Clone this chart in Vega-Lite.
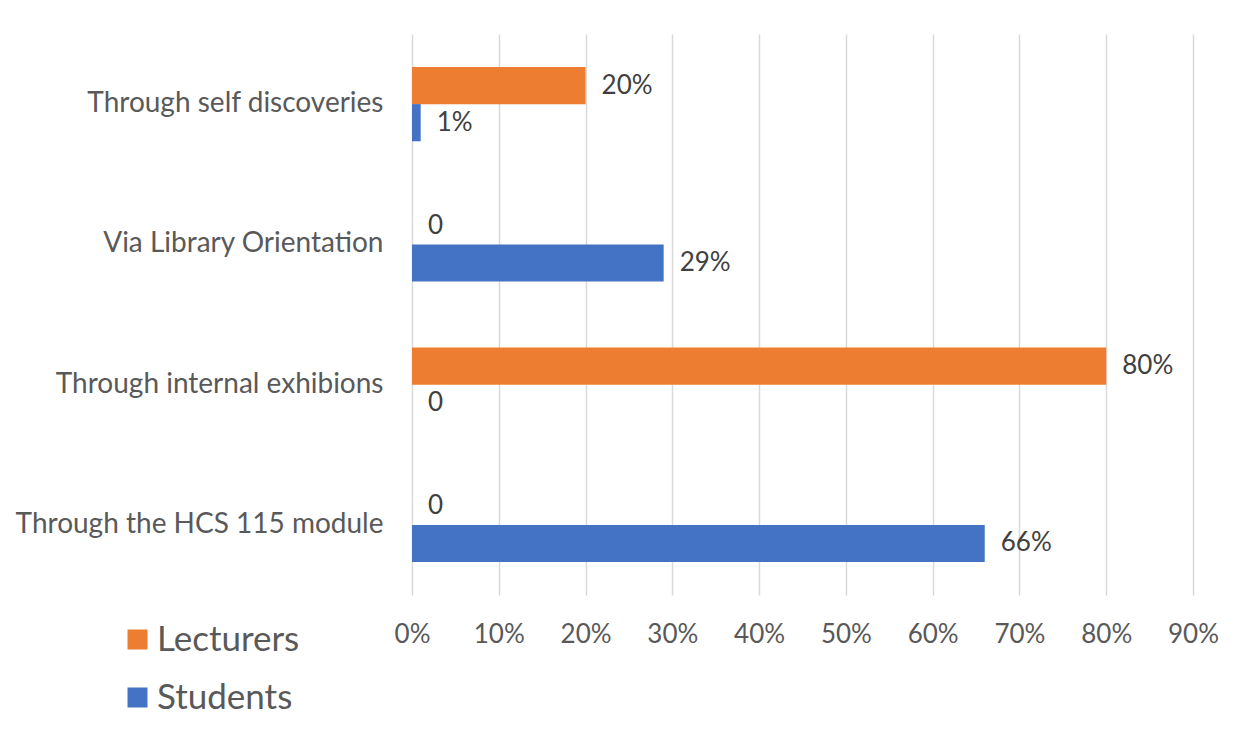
{
  "$schema": "https://vega.github.io/schema/vega-lite/v6.json",
  "width": 781,
  "height": 561,
  "autosize": {"type": "none"},
  "padding": {"left": 412, "top": 34, "right": 56, "bottom": 152},
  "background": "white",
  "config": {"view": {"stroke": null}, "font": "Lato"},
  "data": {
    "values": [
      {"category": "Through self discoveries", "group": "Lecturers", "value": 0.20, "label": "20%"},
      {"category": "Through self discoveries", "group": "Students", "value": 0.01, "label": "1%"},
      {"category": "Via Library Orientation", "group": "Lecturers", "value": 0, "label": "0"},
      {"category": "Via Library Orientation", "group": "Students", "value": 0.29, "label": "29%"},
      {"category": "Through internal exhibions", "group": "Lecturers", "value": 0.80, "label": "80%"},
      {"category": "Through internal exhibions", "group": "Students", "value": 0, "label": "0"},
      {"category": "Through the HCS 115 module", "group": "Lecturers", "value": 0, "label": "0"},
      {"category": "Through the HCS 115 module", "group": "Students", "value": 0.66, "label": "66%"}
    ]
  },
  "encoding": {
    "y": {
      "field": "category",
      "type": "nominal",
      "sort": ["Through self discoveries", "Via Library Orientation", "Through internal exhibions", "Through the HCS 115 module"],
      "scale": {"paddingInner": 0.47, "paddingOuter": 0.235},
      "axis": {"title": null, "domain": false, "ticks": false, "labelFontSize": 28, "labelColor": "#595959", "labelPadding": 29, "labelFont": "Lato", "labelLimit": 420}
    },
    "yOffset": {"field": "group", "type": "nominal", "sort": ["Lecturers", "Students"]},
    "x": {
      "field": "value",
      "type": "quantitative",
      "scale": {"domain": [0, 0.9], "nice": false},
      "axis": {"title": null, "format": ".0%", "values": [0, 0.1, 0.2, 0.3, 0.4, 0.5, 0.6, 0.7, 0.8, 0.9], "domain": false, "ticks": false, "grid": true, "gridColor": "#d9d9d9", "gridWidth": 1.5, "labelFontSize": 26, "labelColor": "#595959", "labelPadding": 26, "labelFont": "Lato", "labelFlush": false, "labelOverlap": false}
    }
  },
  "layer": [
    {
      "mark": {"type": "bar"},
      "encoding": {
        "color": {
          "field": "group",
          "type": "nominal",
          "scale": {"domain": ["Lecturers", "Students"], "range": ["#ED7D31", "#4472C4"]},
          "legend": {"title": null, "orient": "none", "legendX": -292, "legendY": 588, "padding": 0, "symbolType": "square", "symbolSize": 400, "symbolStrokeWidth": 0, "labelFontSize": 35, "labelColor": "#595959", "labelFont": "Lato", "rowPadding": 22, "labelOffset": 2}
        }
      }
    },
    {
      "mark": {"type": "text", "align": "left", "baseline": "middle", "dx": 16, "fontSize": 26, "color": "#404040", "font": "Lato"},
      "encoding": {"text": {"field": "label", "type": "nominal"}}
    }
  ]
}
